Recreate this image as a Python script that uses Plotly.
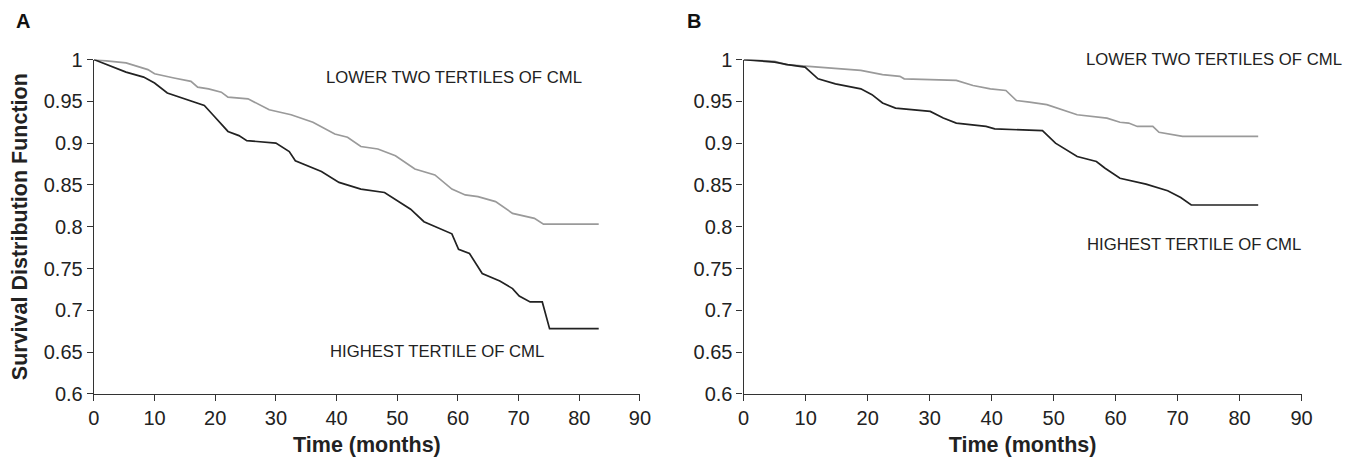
import plotly.graph_objects as go

# Panel A data (months, survival)
a_low_t = [0, 5.3, 8.9, 10, 13.2, 16, 17.1, 18.9, 21, 22.1, 25.4, 28.9, 32.5, 36.1, 39.7, 41.8, 44, 46.8, 49.7, 52.9, 56.2, 59, 61.2, 63.3, 66.2, 69, 72.6, 74.1, 83.2]
a_low_s = [1.0, 0.996, 0.988, 0.983, 0.978, 0.974, 0.967, 0.965, 0.961, 0.955, 0.953, 0.940, 0.934, 0.925, 0.911, 0.907, 0.896, 0.893, 0.885, 0.869, 0.862, 0.845, 0.838, 0.836, 0.830, 0.816, 0.810, 0.803, 0.803]

a_high_t = [0, 3.5, 5.3, 8.2, 10, 12.1, 16, 18.2, 19.6, 22.1, 23.9, 25.2, 30, 32.2, 33.2, 37.5, 40.4, 44, 47.9, 50.4, 52.2, 54.4, 56.2, 57.6, 59, 60.1, 61.9, 64, 66.9, 69, 70.1, 71.9, 73.9, 75.1, 83.2]
a_high_s = [1.0, 0.990, 0.985, 0.979, 0.972, 0.960, 0.951, 0.945, 0.934, 0.914, 0.909, 0.903, 0.900, 0.890, 0.879, 0.866, 0.853, 0.845, 0.841, 0.829, 0.821, 0.806, 0.800, 0.796, 0.7915, 0.773, 0.768, 0.744, 0.735, 0.726, 0.717, 0.710, 0.710, 0.678, 0.678]

# Panel B data
b_low_t = [0, 5, 6.8, 10.6, 14.8, 18.9, 22.4, 25.2, 25.9, 34.3, 37, 39.8, 42.3, 44, 46.1, 48.9, 53.8, 58.6, 60.7, 62.1, 63.5, 66, 67, 69.1, 70.8, 83]
b_low_s = [1.0, 0.998, 0.994, 0.992, 0.990, 0.987, 0.982, 0.980, 0.977, 0.975, 0.969, 0.965, 0.963, 0.951, 0.949, 0.946, 0.934, 0.930, 0.925, 0.924, 0.920, 0.920, 0.913, 0.910, 0.908, 0.908]

b_high_t = [0, 5, 7.1, 9.9, 12, 14.8, 18.9, 20.7, 22.4, 24.5, 30.1, 32.2, 34.3, 39.1, 40.5, 48.2, 50.3, 53.8, 56.9, 58.3, 60.7, 64.9, 68.4, 70.5, 72.2, 83]
b_high_s = [1.0, 0.997, 0.994, 0.991, 0.977, 0.971, 0.965, 0.958, 0.948, 0.942, 0.938, 0.930, 0.924, 0.920, 0.917, 0.915, 0.900, 0.884, 0.878, 0.870, 0.858, 0.851, 0.843, 0.835, 0.826, 0.826]

x_ticks = [0, 10, 20, 30, 40, 50, 60, 70, 80, 90]
y_ticks = [0.6, 0.65, 0.7, 0.75, 0.8, 0.85, 0.9, 0.95, 1]
y_tick_text = ["0.6", "0.65", "0.7", "0.75", "0.8", "0.85", "0.9", "0.95", "1"]

LOW_COLOR = "#9a9a9a"
HIGH_COLOR = "#222222"
FONT = "Liberation Sans, Arial, sans-serif"

fig = go.Figure()
fig.add_trace(go.Scatter(x=a_low_t, y=a_low_s, mode="lines", line=dict(color=LOW_COLOR, width=1.7), xaxis="x", yaxis="y", showlegend=False))
fig.add_trace(go.Scatter(x=a_high_t, y=a_high_s, mode="lines", line=dict(color=HIGH_COLOR, width=1.7), xaxis="x", yaxis="y", showlegend=False))
fig.add_trace(go.Scatter(x=b_low_t, y=b_low_s, mode="lines", line=dict(color=LOW_COLOR, width=1.7), xaxis="x2", yaxis="y2", showlegend=False))
fig.add_trace(go.Scatter(x=b_high_t, y=b_high_s, mode="lines", line=dict(color=HIGH_COLOR, width=1.7), xaxis="x2", yaxis="y2", showlegend=False))

ax_common = dict(
    range=[0, 90], tickvals=x_ticks, ticks="outside", ticklen=6, tickwidth=1.3, tickcolor="#333",
    showline=True, linecolor="#333", linewidth=1.4, showgrid=False, zeroline=False,
    tickfont=dict(family=FONT, size=20, color="#222"),
)
ay_common = dict(
    range=[0.6, 1.0], tickvals=y_ticks, ticktext=y_tick_text, ticks="outside", ticklen=6, tickwidth=1.3, tickcolor="#333",
    showline=True, linecolor="#333", linewidth=1.4, showgrid=False, zeroline=False,
    tickfont=dict(family=FONT, size=20, color="#222"),
)
title_font = dict(family=FONT, size=21.5, color="#222")

Y_TOP, Y_BOT = 51, 402

fig.update_layout(
    width=1360, height=462,
    margin=dict(l=0, r=0, t=0, b=0),
    paper_bgcolor="white", plot_bgcolor="white",
    xaxis=dict(domain=[89/1360, 642/1360], anchor="y",
               title=dict(text="<b>Time (months)</b>", font=title_font, standoff=8), **ax_common),
    yaxis=dict(domain=[(462-Y_BOT)/462, (462-Y_TOP)/462], anchor="x",
               title=dict(text="<b>Survival Distribution Function</b>", font=title_font, standoff=10), **ay_common),
    xaxis2=dict(domain=[747/1360, 1312/1360], anchor="y2",
                title=dict(text="<b>Time (months)</b>", font=title_font, standoff=8), **ax_common),
    yaxis2=dict(domain=[(462-Y_BOT)/462, (462-Y_TOP)/462], anchor="x2", **ay_common),
)

ann_font = dict(family=FONT, size=16.7, color="#222")
fig.add_annotation(x=38.0, y=0.9785, xref="x", yref="y", text="LOWER TWO TERTILES OF CML", showarrow=False, xanchor="left", yanchor="middle", font=ann_font)
fig.add_annotation(x=38.6, y=0.651, xref="x", yref="y", text="HIGHEST TERTILE OF CML", showarrow=False, xanchor="left", yanchor="middle", font=ann_font)
fig.add_annotation(x=54.9, y=0.9995, xref="x2", yref="y2", text="LOWER TWO TERTILES OF CML", showarrow=False, xanchor="left", yanchor="middle", font=ann_font)
fig.add_annotation(x=55.1, y=0.779, xref="x2", yref="y2", text="HIGHEST TERTILE OF CML", showarrow=False, xanchor="left", yanchor="middle", font=ann_font)

fig.add_annotation(x=8/1360, y=1-11/462, xref="paper", yref="paper", text="<b>A</b>", showarrow=False, xanchor="left", yanchor="middle", font=dict(family=FONT, size=20, color="#111"))
fig.add_annotation(x=688/1360, y=1-11/462, xref="paper", yref="paper", text="<b>B</b>", showarrow=False, xanchor="left", yanchor="middle", font=dict(family=FONT, size=20, color="#111"))

fig.write_html("out.html", config={"displayModeBar": False},
               post_script="document.body.style.margin='0';document.body.style.overflow='hidden';")
